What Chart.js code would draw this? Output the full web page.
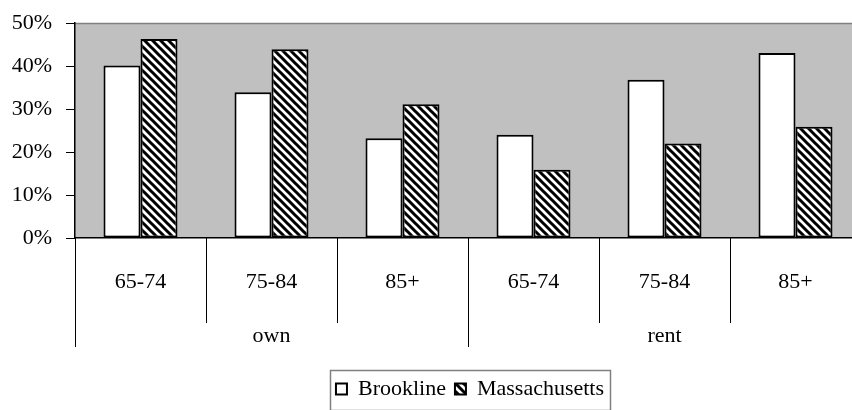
<!DOCTYPE html>
<html>
<head>
<meta charset="utf-8">
<script src="https://cdn.jsdelivr.net/npm/chart.js@4.4.0/dist/chart.umd.min.js"></script>
<style>
  html, body { margin: 0; padding: 0; background: #fff; overflow: hidden; }
  #clip { width: 852px; height: 410px; overflow: hidden; position: relative; }
  #wrap { width: 940px; height: 410px; position: absolute; left: 0; top: 0; }
</style>
</head>
<body>
<div id="clip"><div id="wrap"><canvas id="c"></canvas></div></div>
<script>
// ---- data ----
const categories = ['65-74', '75-84', '85+', '65-74', '75-84', '85+'];
const groupLabels = ['own', 'rent'];
const groupSizes = [3, 3];
const brookline = [40.1, 33.9, 23.2, 24.0, 36.8, 43.0];
const massachusetts = [46.3, 43.9, 31.1, 15.9, 22.0, 25.9];
const yTicks = [0, 10, 20, 30, 40, 50];

const FONT = "'Liberation Serif', 'Times New Roman', serif";
const FS = 22;

function makeHatch() {
  const s = 8;
  const p = document.createElement('canvas');
  p.width = s; p.height = s;
  const g = p.getContext('2d');
  g.fillStyle = '#fff';
  g.fillRect(0, 0, s, s);
  g.strokeStyle = '#000';
  g.lineWidth = 3;
  g.beginPath();
  g.moveTo(-s, 0); g.lineTo(s, 2 * s);
  g.moveTo(0, 0); g.lineTo(s, s);
  g.moveTo(0, -s); g.lineTo(2 * s, s);
  g.stroke();
  return document.getElementById('c').getContext('2d').createPattern(p, 'repeat');
}
const hatch = makeHatch();

const plotDecor = {
  id: 'plotDecor',
  beforeDraw(chart) {
    const { ctx, chartArea: a } = chart;
    ctx.save();
    ctx.fillStyle = '#c0c0c0';
    ctx.fillRect(a.left, a.top, a.right - a.left, a.bottom - a.top);
    ctx.strokeStyle = '#808080';
    ctx.lineWidth = 1.5;
    ctx.beginPath();
    ctx.moveTo(a.left, a.top + 0.5);
    ctx.lineTo(a.right, a.top + 0.5);
    ctx.stroke();
    ctx.restore();
  },
  afterDraw(chart) {
    const { ctx, chartArea: a } = chart;
    const xs = chart.scales.x;
    const cw = xs.getPixelForValue(1) - xs.getPixelForValue(0);
    const left = xs.getPixelForValue(0) - cw / 2;
    ctx.save();
    ctx.strokeStyle = '#000';
    ctx.lineWidth = 1;
    const groupEdges = [0];
    let acc = 0;
    groupSizes.forEach(n => { acc += n; groupEdges.push(acc); });
    for (let i = 0; i <= categories.length; i++) {
      const x = Math.round(left + i * cw) + 0.5;
      const isGroup = groupEdges.includes(i);
      ctx.beginPath();
      ctx.moveTo(x, a.bottom);
      ctx.lineTo(x, a.bottom + (isGroup ? 109 : 85));
      ctx.stroke();
    }
    ctx.fillStyle = '#000';
    ctx.font = FS + 'px ' + FONT;
    ctx.textAlign = 'center';
    ctx.textBaseline = 'middle';
    let start = 0;
    groupLabels.forEach((g, k) => {
      const x0 = left + start * cw;
      const x1 = left + (start + groupSizes[k]) * cw;
      ctx.fillText(g, (x0 + x1) / 2, a.bottom + 98);
      start += groupSizes[k];
    });
    const lg = chart.legend;
    if (lg && lg.legendHitBoxes && lg.legendHitBoxes.length) {
      const hb = lg.legendHitBoxes;
      const l = Math.min(...hb.map(h => h.left)) - 6;
      const r = Math.max(...hb.map(h => h.left + h.width)) + 6;
      ctx.strokeStyle = '#808080';
      ctx.lineWidth = 1.5;
      ctx.strokeRect(Math.round(l) + 0.5, Math.round(lg.top) + 1.5, Math.round(r - l), 40);
    }
    ctx.restore();
  }
};

new Chart(document.getElementById('c'), {
  type: 'bar',
  data: {
    labels: categories,
    datasets: [
      {
        label: 'Brookline',
        data: brookline,
        backgroundColor: '#ffffff',
        borderColor: '#000000',
        borderWidth: 2,
        borderSkipped: false
      },
      {
        label: 'Massachusetts',
        data: massachusetts,
        backgroundColor: hatch,
        borderColor: '#000000',
        borderWidth: 2,
        borderSkipped: false
      }
    ]
  },
  options: {
    responsive: true,
    maintainAspectRatio: false,
    animation: false,
    devicePixelRatio: 1,
    layout: { padding: { top: 23, left: 0, right: 0, bottom: 0 } },
    datasets: { bar: { categoryPercentage: 0.565, barPercentage: 1 } },
    plugins: {
      tooltip: { enabled: false },
      legend: {
        position: 'bottom',
        labels: {
          color: '#000',
          font: { family: FONT, size: FS },
          boxWidth: 11,
          boxHeight: 11,
          padding: 9
        }
      }
    },
    scales: {
      x: {
        grid: { display: false },
        border: { display: true, color: '#000', width: 1.5 },
        ticks: {
          color: '#000',
          font: { family: FONT, size: FS },
          padding: 23,
          maxRotation: 0,
          autoSkip: false
        },
        afterFit(s) { s.height = 131; s.paddingLeft = 0; s.paddingRight = 0; }
      },
      y: {
        min: 0,
        max: 50,
        afterBuildTicks(s) { s.ticks = yTicks.map(v => ({ value: v })); },
        grid: { drawOnChartArea: false, drawTicks: true, tickLength: 9, color: '#000' },
        border: { display: true, color: '#000', width: 1.5 },
        ticks: {
          color: '#000',
          font: { family: FONT, size: FS },
          padding: 14,
          callback: v => v + '%'
        },
        afterFit(s) { s.width = 75; s.paddingTop = 0; s.paddingBottom = 0; }
      },
      y2: {
        position: 'right',
        min: 0,
        max: 1,
        grid: { display: false },
        border: { display: false },
        ticks: { display: false },
        afterFit(s) { s.width = 79; s.paddingTop = 0; s.paddingBottom = 0; }
      }
    }
  },
  plugins: [plotDecor]
});
</script>
</body>
</html>
